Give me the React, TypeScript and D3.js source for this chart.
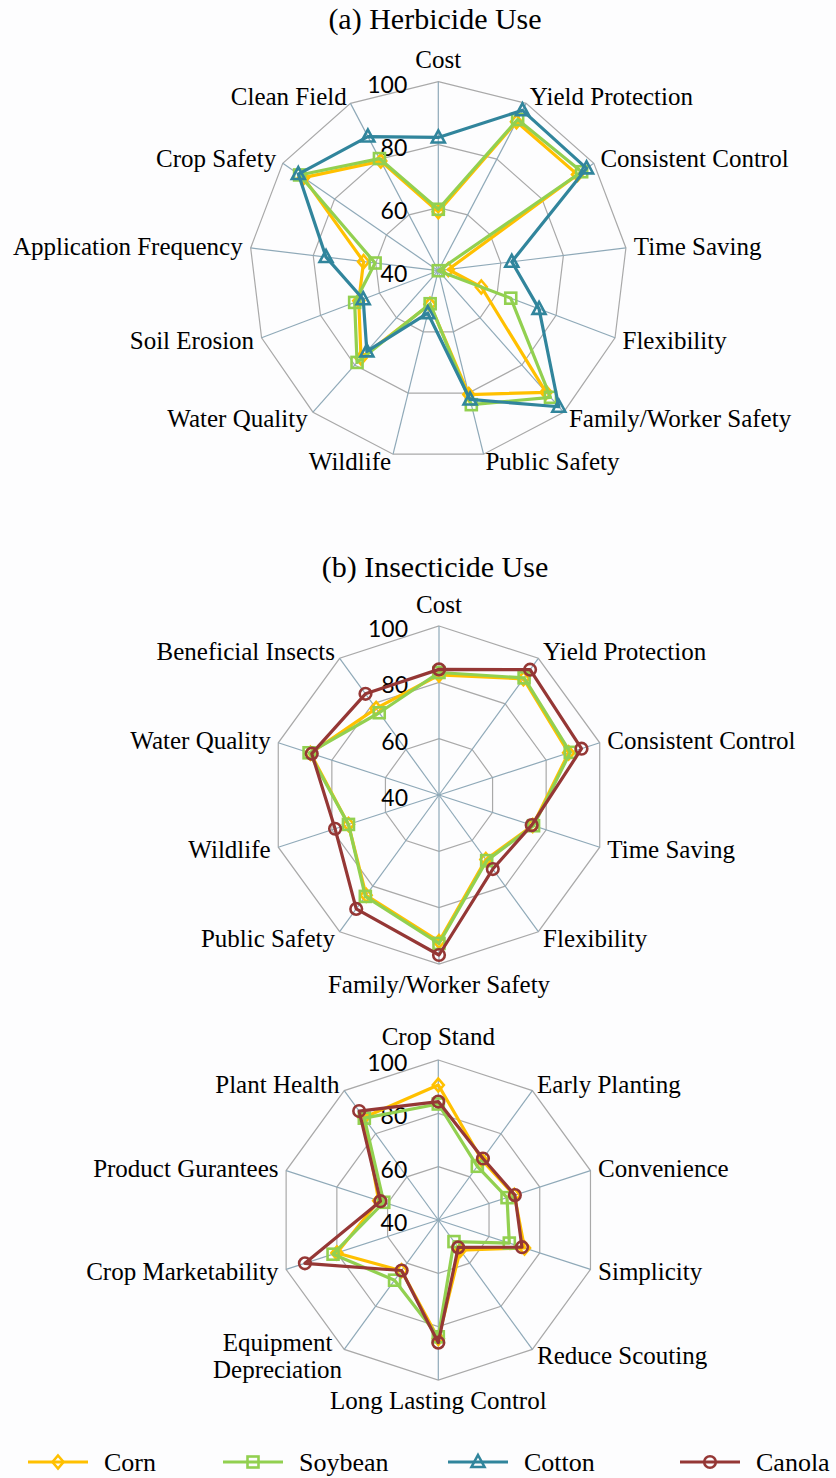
import React from 'react';
import * as d3 from 'd3';

// ---------- Data ----------
const herbAxes = [
  'Cost', 'Yield Protection', 'Consistent Control', 'Time Saving', 'Flexibility',
  'Family/Worker Safety', 'Public Safety', 'Wildlife', 'Water Quality', 'Soil Erosion',
  'Application Frequency', 'Crop Safety', 'Clean Field',
];
const herbCorn = [58.7, 93.4, 93.7, 43.2, 54.6, 91.6, 80.5, 51.0, 77.0, 67.0, 63.9, 92.0, 79.3];
const herbSoybean = [59.5, 94.2, 95.3, 40.0, 64.6, 93.7, 83.8, 50.8, 78.9, 68.4, 60.2, 93.5, 80.2];
const herbCotton = [82.3, 97.5, 97.2, 63.5, 74.2, 97.7, 82.1, 53.9, 74.2, 65.5, 75.9, 94.0, 88.1];

const insAxes = [
  'Cost', 'Yield Protection', 'Consistent Control', 'Time Saving', 'Flexibility',
  'Family/Worker Safety', 'Public Safety', 'Wildlife', 'Water Quality', 'Beneficial Insects',
];
const insCorn = [82.6, 91.0, 88.4, 75.0, 68.3, 92.0, 84.0, 73.8, 88.0, 78.0];
const insSoybean = [83.5, 91.4, 89.0, 75.3, 68.8, 92.7, 84.5, 73.8, 88.5, 76.1];
const insCanola = [84.6, 95.0, 93.2, 74.6, 72.5, 96.8, 90.0, 78.8, 87.5, 84.4];

const seedAxes = [
  'Crop Stand', 'Early Planting', 'Convenience', 'Simplicity', 'Reduce Scouting',
  'Long Lasting Control', 'Equipment\nDepreciation', 'Crop Marketability', 'Product Gurantees', 'Plant Health',
];
const seedCorn = [90.6, 67.8, 70.0, 74.0, 54.0, 84.4, 63.5, 80.0, 63.5, 87.5];
const seedSoybean = [83.5, 64.9, 67.1, 68.0, 50.0, 83.8, 67.9, 81.5, 61.5, 87.2];
const seedCanola = [84.4, 68.5, 70.2, 73.0, 52.7, 86.0, 63.4, 92.6, 62.8, 90.5];

const tickValues = [40, 60, 80, 100];
const ringValues = [60, 80, 100];
const legendNames = ['Corn', 'Soybean', 'Cotton', 'Canola'];

// ---------- Styles ----------
const COLORS: Record<string, string> = {
  Corn: '#FFC000',
  Soybean: '#92D050',
  Cotton: '#31859C',
  Canola: '#953735',
};
const MARKERS: Record<string, string> = {
  Corn: 'diamond',
  Soybean: 'square',
  Cotton: 'triangle',
  Canola: 'circle',
};
const SERIF = "'Liberation Serif', 'Times New Roman', serif";
const SANS = "Lato, 'Liberation Sans', sans-serif";

function Marker({ shape, x, y, color }: { shape: string; x: number; y: number; color: string }) {
  const common = { fill: 'none', stroke: color, strokeWidth: 2.6 };
  if (shape === 'diamond') {
    return <path d={`M${x},${y - 6.5}L${x + 5.5},${y}L${x},${y + 6.5}L${x - 5.5},${y}Z`} {...common} />;
  }
  if (shape === 'square') {
    return <rect x={x - 5.5} y={y - 5.5} width={11} height={11} {...common} />;
  }
  if (shape === 'triangle') {
    return <path d={`M${x},${y - 7}L${x + 6.5},${y + 5}L${x - 6.5},${y + 5}Z`} {...common} />;
  }
  return <circle cx={x} cy={y} r={5.8} {...common} />;
}

type Series = { name: string; values: number[] };

function Radar({ cx, cy, R, axes, series, topGap = 22 }: { cx: number; cy: number; R: number; axes: string[]; series: Series[]; topGap?: number }) {
  const n = axes.length;
  const r = d3.scaleLinear().domain([40, 100]).range([0, R]).clamp(true);
  const angle = d3.scaleLinear().domain([0, n]).range([0, 2 * Math.PI]);
  const pt = (i: number, v: number): [number, number] => {
    const a = angle(i);
    return [cx + r(v) * Math.sin(a), cy - r(v) * Math.cos(a)];
  };
  const idx = d3.range(n);

  const ringPath = (v: number) => {
    const pts = idx.map((i) => pt(i, v));
    return d3.line().curve(d3.curveLinearClosed)(pts) as string;
  };

  return (
    <g>
      {ringValues.map((v) => (
        <path key={v} d={ringPath(v)} fill="none" stroke="#A9A9A9" strokeWidth={1.2} />
      ))}
      {idx.map((i) => {
        const [x, y] = pt(i, 100);
        return <line key={i} x1={cx} y1={cy} x2={x} y2={y} stroke="#8FA9B8" strokeWidth={1.2} />;
      })}
      {tickValues.map((v) => (
        <text key={v} x={cx - 31} y={cy - r(v) + 2} textAnchor="end" dominantBaseline="central"
          fontFamily={SANS} fontSize={23} fill="#000">{v}</text>
      ))}
      {idx.map((i) => {
        const a = angle(i);
        const s = Math.sin(a);
        const c = Math.cos(a);
        const [vx, vy] = pt(i, 100);
        const lines = axes[i].split('\n');
        if (Math.abs(s) < 0.05) {
          const y = c > 0 ? vy - topGap : vy + 20;
          return (
            <text key={i} x={vx} y={y} textAnchor="middle" dominantBaseline="central"
              fontFamily={SERIF} fontSize={25} fill="#000">{axes[i]}</text>
          );
        }
        const x = vx + 8 * s;
        const y = vy - 8 * c;
        if (lines.length > 1) {
          const bx = s > 0 ? x + 62 : x - 62;
          return (
            <text key={i} x={bx} y={y} textAnchor="middle" fontFamily={SERIF} fontSize={25} fill="#000">
              {lines.map((l, k) => (
                <tspan key={k} x={bx} y={y - 13 + k * 27} dominantBaseline="central">{l}</tspan>
              ))}
            </text>
          );
        }
        return (
          <text key={i} x={x} y={y} textAnchor={s > 0 ? 'start' : 'end'} dominantBaseline="central"
            fontFamily={SERIF} fontSize={25} fill="#000">{axes[i]}</text>
        );
      })}
      {series.map((se) => {
        const pts = se.values.map((v, i) => pt(i, v));
        const d = d3.line().curve(d3.curveLinearClosed)(pts) as string;
        return (
          <g key={se.name}>
            <path d={d} fill="none" stroke={COLORS[se.name]} strokeWidth={3.2} strokeLinejoin="round" />
            {pts.map(([x, y], i) => (
              <Marker key={i} shape={MARKERS[se.name]} x={x} y={y} color={COLORS[se.name]} />
            ))}
          </g>
        );
      })}
    </g>
  );
}

const legendX = d3.scaleOrdinal<string, number>().domain(legendNames).range([28, 223, 448, 680]);

export default function App() {
  return (
    <svg width={836} height={1478} style={{ position: 'absolute', left: 0, top: 0, background: '#FDFDFE' }}>
      <rect x={0} y={0} width={836} height={1478} fill="#FDFDFE" />
      <text x={435} y={18} textAnchor="middle" dominantBaseline="central" fontFamily={SERIF} fontSize={30}>(a) Herbicide Use</text>
      <text x={435} y={566} textAnchor="middle" dominantBaseline="central" fontFamily={SERIF} fontSize={30}>(b) Insecticide Use</text>
      <Radar cx={438.3} cy={270.7} R={189} axes={herbAxes}
        series={[{ name: 'Corn', values: herbCorn }, { name: 'Soybean', values: herbSoybean }, { name: 'Cotton', values: herbCotton }]} />
      <Radar cx={439} cy={795} R={169} axes={insAxes}
        series={[{ name: 'Corn', values: insCorn }, { name: 'Soybean', values: insSoybean }, { name: 'Canola', values: insCanola }]} />
      <Radar cx={438.3} cy={1220} R={160} axes={seedAxes} topGap={24}
        series={[{ name: 'Corn', values: seedCorn }, { name: 'Soybean', values: seedSoybean }, { name: 'Canola', values: seedCanola }]} />
      {legendNames.map((nm) => {
        const x0 = legendX(nm);
        const y = 1462;
        return (
          <g key={nm}>
            <line x1={x0} x2={x0 + 60} y1={y} y2={y} stroke={COLORS[nm]} strokeWidth={3.2} />
            <Marker shape={MARKERS[nm]} x={x0 + 30} y={y} color={COLORS[nm]} />
            <text x={x0 + 76} y={y} dominantBaseline="central" fontFamily={SERIF} fontSize={26}>{nm}</text>
          </g>
        );
      })}
    </svg>
  );
}
